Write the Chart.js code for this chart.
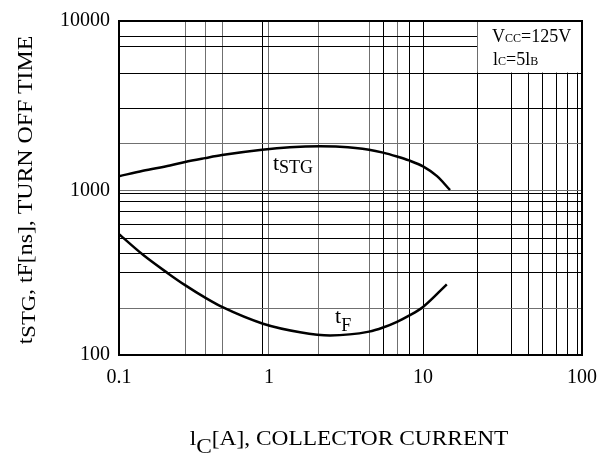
<!DOCTYPE html>
<html>
<head>
<meta charset="utf-8">
<script src="https://cdn.jsdelivr.net/npm/chart.js@4.4.0/dist/chart.umd.min.js"></script>
<style>html,body{margin:0;padding:0;background:#fff}</style>
</head>
<body>
<canvas id="myChart" width="616" height="455"></canvas>
<script>
// storage time curve, collector current [A] vs time [ns]
var stgCurrent = [0.1,0.143,0.214,0.268,0.361,0.465,0.845,1.28,2.0,2.7,4.17,5.14,6.33,7.57,9.33,11.5,13.96];
var stgTime = [1177,1268,1365,1432,1510,1575,1695,1754,1778,1766,1695,1629,1543,1462,1347,1177,973];
// fall time curve
var fCurrent = [0.1,0.143,0.208,0.268,0.366,0.465,0.857,1.49,2.33,4.17,5.14,6.33,7.57,9.33,13.3];
var fTime = [529,398,308,262,219,194,154,137,131,138,146,158,172,194,265];

// grid lines as drawn on the sheet (it is not an even log grid)
var xGrid = [0.1,0.268,0.361,0.465,0.857,0.937,1.948,4.17,5.14,6.33,7.57,9.33,20.9,34.7,44.7,55.1,67.9,80.0,92.9,100];
var yGrid = [100,189,312,404,501,606,722,828,922,960,1842,2992,4876,7035,8050,10000];
var xGray = [0.268,0.361,0.465,0.937,1.948,4.17,6.33];
var yGray = [189,960,1842];
// tick labels and where they sit
var xTickValues = [0.1,0.937,9.33,100];
var xTickLabels = ["0.1","1","10","100"];
var yTickValues = [100,960,10000];
var yTickLabels = ["100","1000","10000"];

// condition box corner and curve name anchors
var boxCorner = [20.9,4876];
var stgLabelAt = [0.995,1276];
var fLabelAt = [2.51,156];

var serif = "'Liberation Serif', 'Times New Roman', serif";

// draws text made of parts (main text and sub/small parts), optionally stretched sideways
function richText(ctx, parts, x, y, align, sx) {
  sx = sx || 1;
  var w = 0;
  parts.forEach(function (p) {
    ctx.font = p.size + "px " + serif;
    w += ctx.measureText(p.t).width;
  });
  ctx.save();
  ctx.translate(x, y);
  ctx.scale(sx, 1);
  var cx = align === "center" ? -w / 2 : 0;
  parts.forEach(function (p) {
    ctx.font = p.size + "px " + serif;
    ctx.fillText(p.t, cx, p.dy || 0);
    cx += ctx.measureText(p.t).width;
  });
  ctx.restore();
}

var sheetPlugin = {
  id: "sheet",
  beforeDatasetsDraw: function (chart) {
    var ctx = chart.ctx, xs = chart.scales.x, ys = chart.scales.y, a = chart.chartArea;
    var bx = xs.getPixelForValue(boxCorner[0]), by = ys.getPixelForValue(boxCorner[1]);
    ctx.save();
    ctx.fillStyle = "#fff";
    ctx.fillRect(bx + 0.5, a.top, a.right - bx, by - a.top - 0.5);
    ctx.fillStyle = "#000";
    ctx.textBaseline = "alphabetic";
    ctx.textAlign = "left";
    richText(ctx, [{t:"V",size:18},{t:"CC",size:12},{t:"=125V",size:18}], bx + 15, a.top + 21, "left");
    richText(ctx, [{t:"l",size:18},{t:"C",size:12},{t:"=5l",size:18},{t:"B",size:12}], bx + 16, a.top + 44, "left");
    ctx.restore();
  },
  afterDraw: function (chart) {
    var ctx = chart.ctx, xs = chart.scales.x, ys = chart.scales.y, a = chart.chartArea;
    ctx.save();
    ctx.strokeStyle = "#000";
    ctx.lineWidth = 2;
    ctx.strokeRect(a.left, a.top, a.right - a.left, a.bottom - a.top);
    ctx.fillStyle = "#000";
    ctx.textBaseline = "alphabetic";
    ctx.textAlign = "left";
    // curve names
    richText(ctx, [{t:"t",size:22},{t:"STG",size:18,dy:3}],
      xs.getPixelForValue(stgLabelAt[0]), ys.getPixelForValue(stgLabelAt[1]), "left");
    richText(ctx, [{t:"t",size:22},{t:"F",size:18,dy:8}],
      xs.getPixelForValue(fLabelAt[0]), ys.getPixelForValue(fLabelAt[1]), "left");
    // axis titles
    richText(ctx, [{t:"l",size:20},{t:"C",size:20,dy:8},{t:"[A], COLLECTOR CURRENT",size:20}], 349, 445, "center", 1.17);
    ctx.translate(32, 190);
    ctx.rotate(-Math.PI / 2);
    richText(ctx, [{t:"t",size:20},{t:"STG",size:19,dy:3},{t:", tF[ns], TURN OFF TIME",size:20}], 0, 0, "center", 1.19);
    ctx.restore();
  }
};

function tickText(values, labels) {
  return function (value) {
    for (var i = 0; i < values.length; i++) {
      if (Math.abs(values[i] - value) < 1e-9) return labels[i];
    }
    return "";
  };
}

var ctx = document.getElementById("myChart");
var myChart = new Chart(ctx, {
  type: "line",
  data: {
    datasets: [
      {
        label: "tSTG",
        data: stgCurrent.map(function (c, i) { return {x: c, y: stgTime[i]}; }),
        borderColor: "#000",
        borderWidth: 2.5,
        pointRadius: 0,
        cubicInterpolationMode: "monotone",
        fill: false
      },
      {
        label: "tF",
        data: fCurrent.map(function (c, i) { return {x: c, y: fTime[i]}; }),
        borderColor: "#000",
        borderWidth: 2.5,
        pointRadius: 0,
        cubicInterpolationMode: "monotone",
        fill: false
      }
    ]
  },
  options: {
    responsive: false,
    animation: false,
    layout: {padding: {top: 15, right: 34, left: 0, bottom: 0}},
    plugins: {legend: {display: false}, tooltip: {enabled: false}},
    scales: {
      x: {
        type: "logarithmic",
        min: 0.1,
        max: 100,
        afterBuildTicks: function (s) { s.ticks = xGrid.map(function (v) { return {value: v}; }); },
        afterFit: function (s) { s.height = 100; },
        border: {display: false},
        grid: {
          drawTicks: false,
          lineWidth: 1,
          color: function (c) { return xGray.indexOf(c.tick.value) >= 0 ? "#707070" : "#000"; }
        },
        ticks: {
          autoSkip: false,
          maxRotation: 0,
          padding: 11,
          color: "#000",
          font: {family: serif, size: 20},
          callback: tickText(xTickValues, xTickLabels)
        }
      },
      y: {
        type: "logarithmic",
        min: 100,
        max: 10000,
        afterBuildTicks: function (s) { s.ticks = yGrid.map(function (v) { return {value: v}; }); },
        afterFit: function (s) { s.width = 119; },
        border: {display: false},
        grid: {
          drawTicks: false,
          lineWidth: 1,
          color: function (c) { return yGray.indexOf(c.tick.value) >= 0 ? "#707070" : "#000"; }
        },
        ticks: {
          autoSkip: false,
          padding: 9,
          color: "#000",
          font: {family: serif, size: 20},
          callback: tickText(yTickValues, yTickLabels)
        }
      }
    }
  },
  plugins: [sheetPlugin]
});
</script>
</body>
</html>
